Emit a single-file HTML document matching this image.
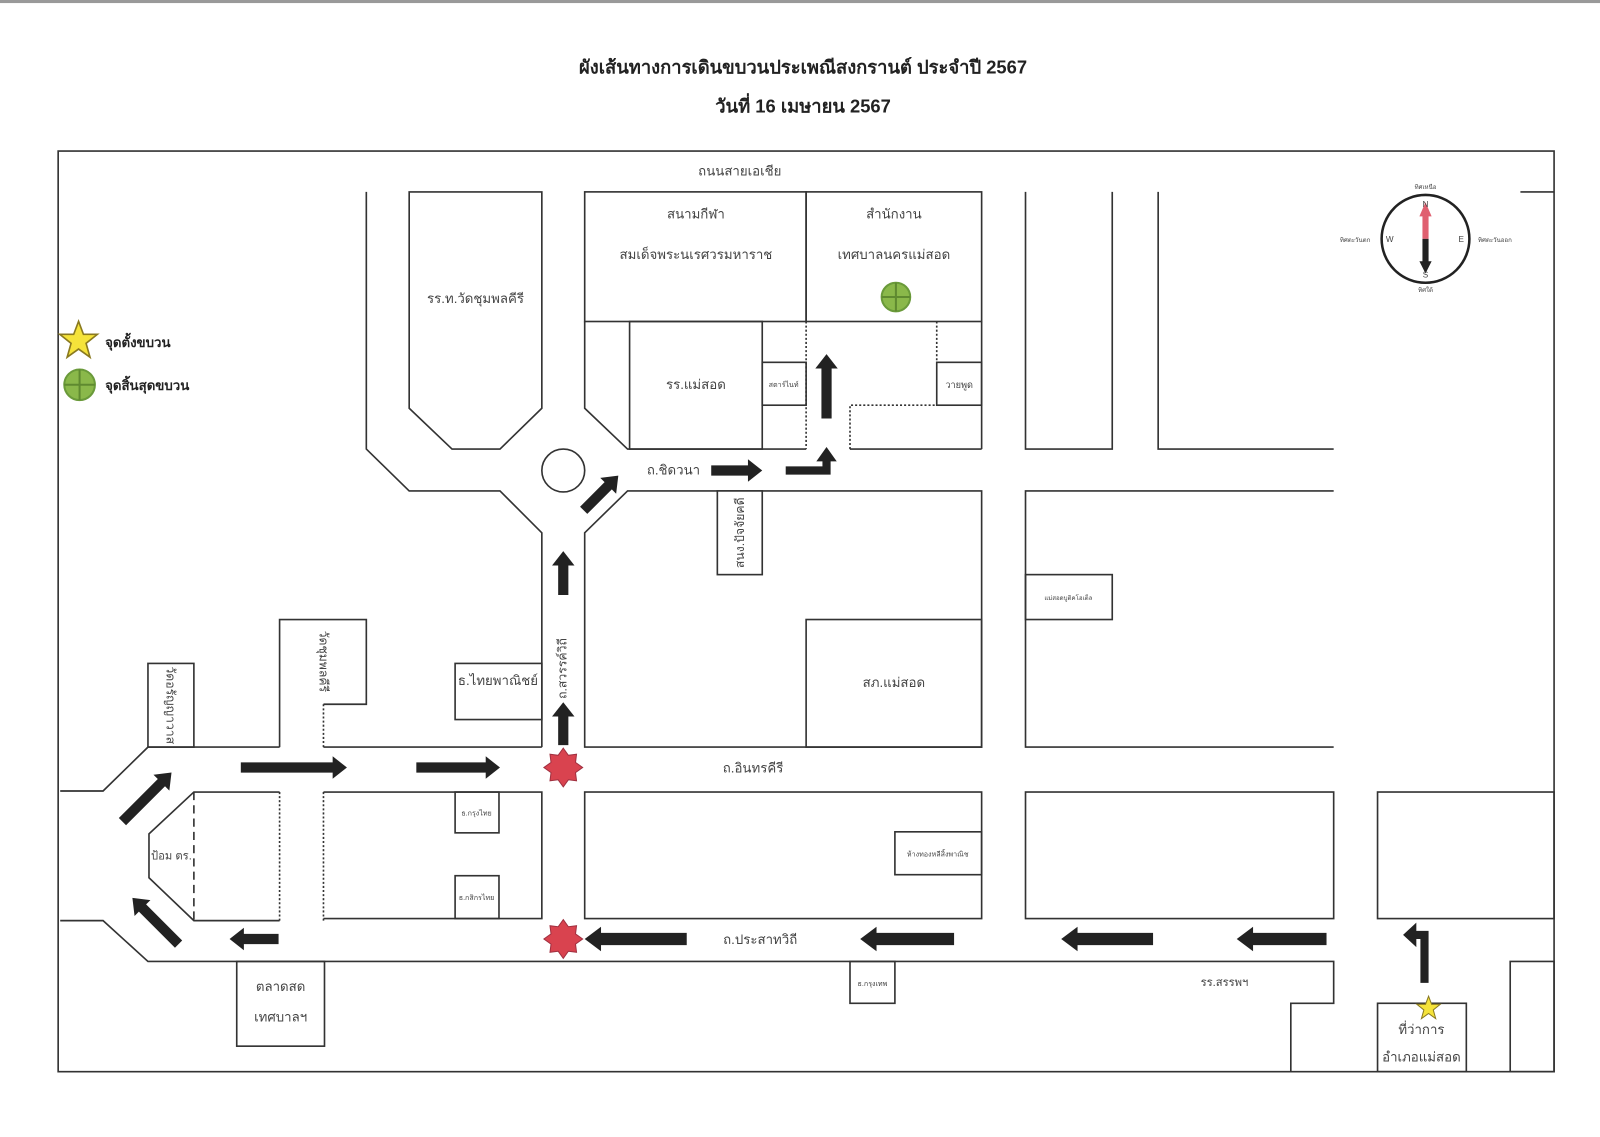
<!DOCTYPE html>
<html><head><meta charset="utf-8"><style>
html,body{margin:0;padding:0;background:#fff;}
svg{display:block;}
text{font-family:"Liberation Sans","Noto Sans CJK SC",sans-serif;fill:#444;}
</style></head><body>
<svg width="1600" height="1137" viewBox="0 0 1568 1114" preserveAspectRatio="none" xmlns="http://www.w3.org/2000/svg">
<rect x="0" y="0" width="1568" height="3" fill="#999"/>
<text x="787" y="72" font-size="18" font-weight="bold" text-anchor="middle" style="fill:#222">ผังเส้นทางการเดินขบวนประเพณีสงกรานต์ ประจำปี 2567</text>
<text x="787" y="110" font-size="18" font-weight="bold" text-anchor="middle" style="fill:#222">วันที่ 16 เมษายน 2567</text>
<g fill="none" stroke="#333" stroke-width="1.6">
<rect x="57" y="148" width="1466" height="902"/>
<line x1="1490" y1="188" x2="1523" y2="188"/>
<polygon points="401,188 531,188 531,400 490,440 443,440 401,400" fill="#fff"/>
<polyline points="359,188 359,440 401,481 490,481 531,522 531,732"/>
<rect x="446" y="650" width="85" height="55"/>
<polyline points="274,732 274,607 359,607 359,690 317,690"/>
<line x1="317" y1="690" x2="317" y2="732" stroke-dasharray="2,2"/>
<rect x="145" y="650" width="45" height="82"/>
<polyline points="59,775 101,775 145,732 274,732"/>
<line x1="317" y1="732" x2="531" y2="732"/>
<polyline points="274,776 190,776 146,817 146,860 190,902 274,902"/>
<line x1="190" y1="776" x2="190" y2="902" stroke-dasharray="8,5"/>
<line x1="274" y1="776" x2="274" y2="902" stroke-dasharray="2,2"/>
<line x1="317" y1="776" x2="317" y2="902" stroke-dasharray="2,2"/>
<polyline points="317,776 531,776 531,900 317,900"/>
<rect x="446" y="776" width="43" height="40"/>
<rect x="446" y="858" width="43" height="42"/>
<polyline points="59,902 101,902 145,942 1307,942 1307,983 1265,983 1265,1050"/>
<rect x="232" y="942" width="86" height="83"/>
<rect x="833" y="942" width="44" height="41"/>
<rect x="1350" y="983" width="87" height="67"/>
<rect x="1480" y="942" width="43" height="108"/>
<rect x="573" y="188" width="217" height="127"/>
<rect x="790" y="188" width="172" height="127"/>
<polyline points="573,315 573,400 615,440 790,440"/>
<rect x="617" y="315" width="130" height="125"/>
<rect x="747" y="355" width="43" height="42"/>
<line x1="790" y1="315" x2="790" y2="440" stroke-dasharray="2,2"/>
<line x1="918" y1="315" x2="918" y2="355" stroke-dasharray="2,2"/>
<rect x="918" y="355" width="44" height="42"/>
<line x1="962" y1="315" x2="962" y2="440"/>
<polyline points="833,440 833,397 918,397" stroke-dasharray="2,2"/>
<line x1="833" y1="440" x2="962" y2="440"/>
<polygon points="573,522 615,481 962,481 962,732 573,732"/>
<rect x="703" y="481" width="44" height="82" fill="#fff"/>
<rect x="790" y="607" width="172" height="125"/>
<polyline points="1005,188 1005,440 1090,440 1090,188"/>
<polyline points="1135,188 1135,440 1307,440"/>
<polyline points="1307,481 1005,481 1005,732 1307,732"/>
<rect x="1005" y="563" width="85" height="44"/>
<rect x="573" y="776" width="389" height="124"/>
<rect x="877" y="815" width="85" height="42"/>
<rect x="1005" y="776" width="302" height="124"/>
<rect x="1350" y="776" width="173" height="124"/>
<circle cx="552" cy="461" r="21"/>
</g>
<g fill="#222">
<g transform="translate(552,730) rotate(-90)"><polygon points="0,-5 28,-5 28,-11 42,0 28,11 28,5 0,5"/></g>
<g transform="translate(552,583) rotate(-90)"><polygon points="0,-5 29,-5 29,-11 43,0 29,11 29,5 0,5"/></g>
<g transform="translate(572,500) rotate(-45)"><polygon points="0,-5 34,-5 34,-11 48,0 34,11 34,5 0,5"/></g>
<g transform="translate(697,461)"><polygon points="0,-5 36,-5 36,-11 50,0 36,11 36,5 0,5"/></g>
<polygon points="770,457 806,457 806,452 800,452 810,438 820,452 814,452 814,465 770,465"/>
<g transform="translate(810,410) rotate(-90)"><polygon points="0,-5 49,-5 49,-11 63,0 49,11 49,5 0,5"/></g>
<g transform="translate(236,752)"><polygon points="0,-5 90,-5 90,-11 104,0 90,11 90,5 0,5"/></g>
<g transform="translate(408,752)"><polygon points="0,-5 68,-5 68,-11 82,0 68,11 68,5 0,5"/></g>
<g transform="translate(120,805) rotate(-45)"><polygon points="0,-5 54,-5 54,-11 68,0 54,11 54,5 0,5"/></g>
<g transform="translate(175,925) rotate(-135)"><polygon points="0,-5 50,-5 50,-11 64,0 50,11 50,5 0,5"/></g>
<g transform="translate(273,920) rotate(180)"><polygon points="0,-5 34,-5 34,-11 48,0 34,11 34,5 0,5"/></g>
<g transform="translate(673,920) rotate(180)"><polygon points="0,-6 84,-6 84,-12 100,0 84,12 84,6 0,6"/></g>
<g transform="translate(935,920) rotate(180)"><polygon points="0,-6 76,-6 76,-12 92,0 76,12 76,6 0,6"/></g>
<g transform="translate(1130,920) rotate(180)"><polygon points="0,-6 74,-6 74,-12 90,0 74,12 74,6 0,6"/></g>
<g transform="translate(1300,920) rotate(180)"><polygon points="0,-6 72,-6 72,-12 88,0 72,12 72,6 0,6"/></g>
<polygon points="1392,963 1400,963 1400,912 1388,912 1388,904 1375,916 1388,928 1388,920 1392,920"/>
</g>
<g fill="#d9434f" stroke="#a03040" stroke-width="1">
<polygon transform="translate(552,752)" points="0,-19 5,-12 13,-13 12,-5 19,0 12,5 13,13 5,12 0,19 -5,12 -13,13 -12,5 -19,0 -12,-5 -13,-13 -5,-12"/>
<polygon transform="translate(552,920)" points="0,-19 5,-12 13,-13 12,-5 19,0 12,5 13,13 5,12 0,19 -5,12 -13,13 -12,5 -19,0 -12,-5 -13,-13 -5,-12"/>
</g>
<g fill="#f5e33a" stroke="#8a7a20" stroke-width="1">
<polygon transform="translate(77,334) scale(1.6)" points="0,-12 3,-4 11.5,-4 4.6,1.5 7,10 0,5 -7,10 -4.6,1.5 -11.5,-4 -3,-4"/>
<polygon transform="translate(1400,988)" points="0,-12 3,-4 11.5,-4 4.6,1.5 7,10 0,5 -7,10 -4.6,1.5 -11.5,-4 -3,-4"/>
</g>
<g>
<circle cx="878" cy="291" r="14" fill="#8ab84a" stroke="#6a9a3a" stroke-width="2"/>
<line x1="864" y1="291" x2="892" y2="291" stroke="#5f8a30" stroke-width="2"/>
<line x1="878" y1="277" x2="878" y2="305" stroke="#5f8a30" stroke-width="2"/>
<circle cx="78" cy="377" r="15" fill="#8ab84a" stroke="#6a9a3a" stroke-width="2"/>
<line x1="63" y1="377" x2="93" y2="377" stroke="#5f8a30" stroke-width="2"/>
<line x1="78" y1="362" x2="78" y2="392" stroke="#5f8a30" stroke-width="2"/>
</g>
<circle cx="1397" cy="234" r="43" fill="none" stroke="#222" stroke-width="2.5"/>
<polygon points="1394,234 1400,234 1400,212 1403,212 1397,198 1391,212 1394,212" fill="#e06070"/>
<polygon points="1394,234 1400,234 1400,256 1403,256 1397,268 1391,256 1394,256" fill="#222"/>
<text x="1397" y="203" font-size="8" text-anchor="middle">N</text>
<text x="1397" y="272" font-size="8" text-anchor="middle">S</text>
<text x="1362" y="237" font-size="8" text-anchor="middle">W</text>
<text x="1432" y="237" font-size="8" text-anchor="middle">E</text>
<text x="1397" y="185" font-size="6" text-anchor="middle">ทิศเหนือ</text>
<text x="1397" y="286" font-size="6" text-anchor="middle">ทิศใต้</text>
<text x="1328" y="237" font-size="6" text-anchor="middle">ทิศตะวันตก</text>
<text x="1465" y="237" font-size="6" text-anchor="middle">ทิศตะวันออก</text>
<g font-size="13">
<text x="103" y="340" font-weight="bold" style="fill:#222">จุดตั้งขบวน</text>
<text x="103" y="382" font-weight="bold" style="fill:#222">จุดสิ้นสุดขบวน</text>
<text x="725" y="172" text-anchor="middle">ถนนสายเอเชีย</text>
<text x="682" y="214" text-anchor="middle">สนามกีฬา</text>
<text x="682" y="254" text-anchor="middle">สมเด็จพระนเรศวรมหาราช</text>
<text x="876" y="214" text-anchor="middle">สำนักงาน</text>
<text x="876" y="254" text-anchor="middle">เทศบาลนครแม่สอด</text>
<text x="466" y="297" text-anchor="middle">รร.ท.วัดชุมพลคีรี</text>
<text x="682" y="381" text-anchor="middle">รร.แม่สอด</text>
<text x="768" y="379" font-size="7" text-anchor="middle">สตาร์ไนท์</text>
<text x="940" y="380" font-size="9" text-anchor="middle">วายพูด</text>
<text x="660" y="465" text-anchor="middle">ถ.ชิดวนา</text>
<text x="488" y="671" text-anchor="middle">ธ.ไทยพาณิชย์</text>
<text x="876" y="673" text-anchor="middle">สภ.แม่สอด</text>
<text x="738" y="757" text-anchor="middle">ถ.อินทรคีรี</text>
<text x="745" y="925" text-anchor="middle">ถ.ประสาทวิถี</text>
<text x="168" y="842" font-size="11" text-anchor="middle">ป้อม ตร.</text>
<text x="467" y="799" font-size="7" text-anchor="middle">ธ.กรุงไทย</text>
<text x="467" y="882" font-size="7" text-anchor="middle">ธ.กสิกรไทย</text>
<text x="919" y="839" font-size="7" text-anchor="middle">ห้างทองหลีสิ้งพาณิช</text>
<text x="1047" y="588" font-size="6" text-anchor="middle">แม่สอดบูติคโฮเต็ล</text>
<text x="855" y="966" font-size="7" text-anchor="middle">ธ.กรุงเทพ</text>
<text x="1200" y="966" font-size="11" text-anchor="middle">รร.สรรพฯ</text>
<text x="275" y="971" text-anchor="middle">ตลาดสด</text>
<text x="275" y="1001" text-anchor="middle">เทศบาลฯ</text>
<text x="1393" y="1013" text-anchor="middle">ที่ว่าการ</text>
<text x="1393" y="1040" text-anchor="middle">อำเภอแม่สอด</text>
<text transform="translate(729,522) rotate(-90)" text-anchor="middle" font-size="12">สนง.ปัจจัยคดี</text>
<text transform="translate(555,655) rotate(-90)" text-anchor="middle" font-size="12">ถ.สวรรค์วิถี</text>
<text transform="translate(313,648) rotate(90)" text-anchor="middle" font-size="12">วัดชุมพลคีรี</text>
<text transform="translate(163,691) rotate(90)" text-anchor="middle" font-size="12">วัดอรัญญาวาส</text>
</g>
</svg>
</body></html>
